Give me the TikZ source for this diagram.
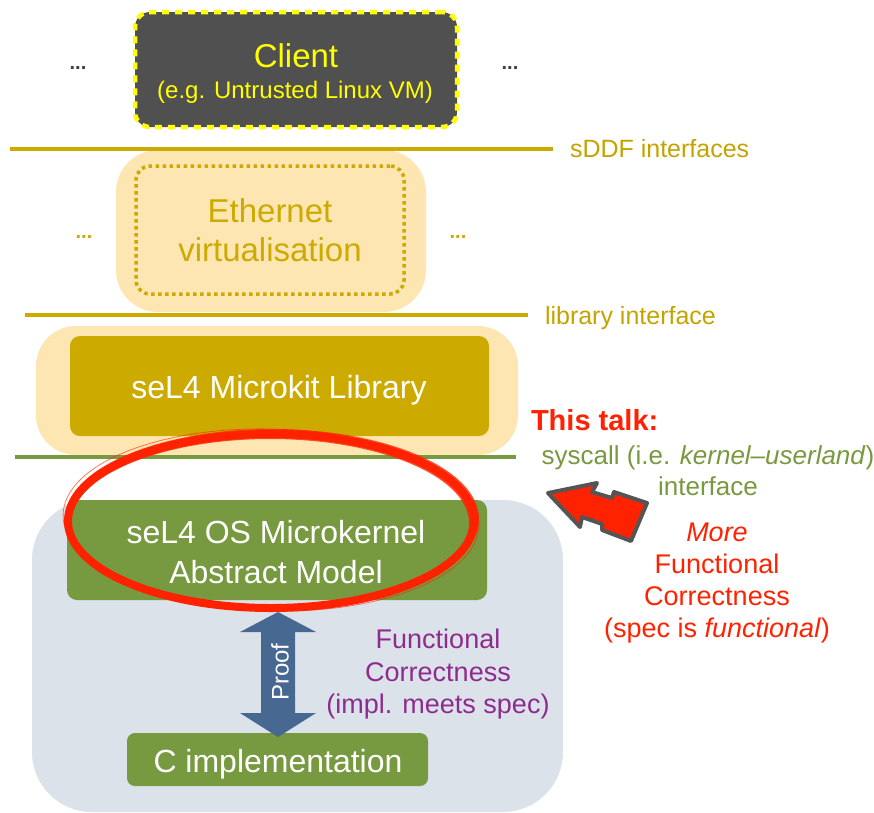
\documentclass[tikz,border=0pt]{standalone}
\usepackage{fontspec}
\setmainfont{Liberation Sans}
\usetikzlibrary{shapes.geometric}
\definecolor{gold}{HTML}{CCAA00}
\definecolor{goldtxt}{HTML}{C4A300}
\definecolor{paleyel}{HTML}{FDE6B2}
\definecolor{olive}{HTML}{77993F}
\definecolor{grayblue}{HTML}{DCE2EA}
\definecolor{darkbox}{HTML}{505050}
\definecolor{brightyel}{HTML}{FFFF00}
\definecolor{hotred}{HTML}{FF2200}
\definecolor{purp}{HTML}{8E2B8F}
\definecolor{steel}{HTML}{476890}
\definecolor{arrowgray}{HTML}{555555}
\definecolor{dotgray}{HTML}{404040}
\newcommand\myfs[1]{\fontsize{#1}{#1}\selectfont}
\begin{document}
\begin{tikzpicture}[x=1pt,y=-1pt,
  box/.style={rectangle, inner sep=0pt, outer sep=0pt, anchor=north west},
  lbl/.style={inner sep=0pt, outer sep=0pt, anchor=base},
  lblw/.style={inner sep=0pt, outer sep=0pt, anchor=base west},
  layerline/.style={line width=4pt},
]
\useasboundingbox (0,0) rectangle (874,812);

% background areas
\node[box, fill=grayblue, rounded corners=60pt, minimum width=531pt, minimum height=312pt] (kernelarea) at (32,500) {};
\node[box, fill=paleyel, rounded corners=42pt, minimum width=310pt, minimum height=162pt] (ethouter) at (116,150) {};
\node[box, fill=paleyel, rounded corners=40pt, minimum width=482pt, minimum height=129pt] (libouter) at (36,326) {};

% client
\node[box, fill=darkbox, draw=brightyel, line width=4.5pt, dash pattern=on 7pt off 6pt, rounded corners=15pt, minimum width=322pt, minimum height=115pt] (client) at (135,12) {};
\node[lbl, text=brightyel, font=\myfs{33}] (clientt) at (296,67) {Client};
\node[lbl, text=brightyel, font=\myfs{24}] (cliente) at (295,98) {(e.g. Untrusted Linux VM)};
\node[lbl, text=dotgray, font=\bfseries\myfs{20}] (dotsa) at (78,69) {...};
\node[lbl, text=dotgray, font=\bfseries\myfs{20}] (dotsb) at (510,69) {...};

% sDDF interfaces
\draw[gold, layerline] (10,149) -- (553,149);
\node[lblw, text=goldtxt, font=\myfs{25}] (sddf) at (570,157) {sDDF interfaces};

% ethernet virtualisation
\node[box, draw=gold, line width=3.5pt, dash pattern=on 3.5pt off 3.5pt, rounded corners=14pt, minimum width=268pt, minimum height=128pt] (eth) at (136,166) {};
\node[lbl, text=gold, font=\myfs{33}] (etha) at (270,222) {Ethernet};
\node[lbl, text=gold, font=\myfs{33}] (ethb) at (270,261) {virtualisation};
\node[lbl, text=gold, font=\bfseries\myfs{20}] (dotsc) at (84,238) {...};
\node[lbl, text=gold, font=\bfseries\myfs{20}] (dotsd) at (458,238) {...};

% library interface
\draw[gold, layerline] (25,315) -- (528,315);
\node[lblw, text=goldtxt, font=\myfs{25}] (libif) at (545,324) {library interface};

% microkit library
\node[box, fill=gold, rounded corners=10pt, minimum width=419pt, minimum height=100pt] (mk) at (70,336) {};
\node[lbl, text=white, font=\myfs{32}] (mkt) at (279,398) {seL4 Microkit Library};

% syscall line
\draw[olive, layerline] (15,457) -- (516,457);

% kernel
\node[box, fill=olive, rounded corners=10pt, minimum width=420pt, minimum height=100pt] (kernel) at (67,500) {};
\node[lbl, text=white, font=\myfs{32}] (kernela) at (276,543) {seL4 OS Microkernel};
\node[lbl, text=white, font=\myfs{32}] (kernelb) at (276,583) {Abstract Model};

% C implementation
\node[box, fill=olive, rounded corners=8pt, minimum width=301pt, minimum height=53pt] (cimpl) at (127,733) {};
\node[lbl, text=white, font=\myfs{32}] (cimplt) at (278,772) {C implementation};

% proof arrow
\fill[steel] (278,612) -- (316,632) -- (295,632) -- (295,713) -- (316,713) -- (278,737)
  -- (240,713) -- (261,713) -- (261,632) -- (240,632) -- cycle;
\node[lbl, anchor=center, rotate=90, text=white, font=\myfs{24}] (proof) at (280,672) {Proof};

% purple text
\node[lbl, text=purp, font=\myfs{27}] (fca) at (438,648) {Functional};
\node[lbl, text=purp, font=\myfs{27}] (fcb) at (438,681) {Correctness};
\node[lbl, text=purp, font=\myfs{27}] (fcc) at (438,713) {(impl. meets spec)};

% this talk
\node[lblw, text=hotred, font=\bfseries\myfs{29}] (talk) at (531,430) {This talk:};
\node[lbl, text=olive, font=\myfs{26}] (sysa) at (708,464) {syscall (i.e. \textit{kernel–userland})};
\node[lbl, text=olive, font=\myfs{26}] (sysb) at (708,495) {interface};

% red text
\node[lbl, text=hotred, font=\myfs{27}] (moa) at (717,541) {\textit{More}};
\node[lbl, text=hotred, font=\myfs{27}] (mob) at (717,573) {Functional};
\node[lbl, text=hotred, font=\myfs{27}] (moc) at (717,605) {Correctness};
\node[lbl, text=hotred, font=\myfs{27}] (mod) at (717,637) {(spec is \textit{functional})};

% red double arrow
\filldraw[fill=hotred, draw=arrowgray, line width=4pt, line join=round]
  (548,493) -- (597,483) -- (592,492) -- (612,498) -- (614,492) -- (647,503)
  -- (631,541) -- (602,530) -- (602,524) -- (582,517) -- (580,527) -- cycle;

% red ellipse (brush stroke)
\draw[hotred, line width=8pt] (271,521) ellipse [x radius=203, y radius=87];
\draw[hotred, line width=2pt, opacity=.8] (272,519) ellipse [x radius=206, y radius=89];
\draw[hotred, line width=2pt, opacity=.8] (270,523) ellipse [x radius=200, y radius=85];
\draw[hotred, line width=0.8pt, opacity=.6, rotate around={-1.5:(271,521)}] (271,520) ellipse [x radius=208, y radius=91];
\end{tikzpicture}
\end{document}
